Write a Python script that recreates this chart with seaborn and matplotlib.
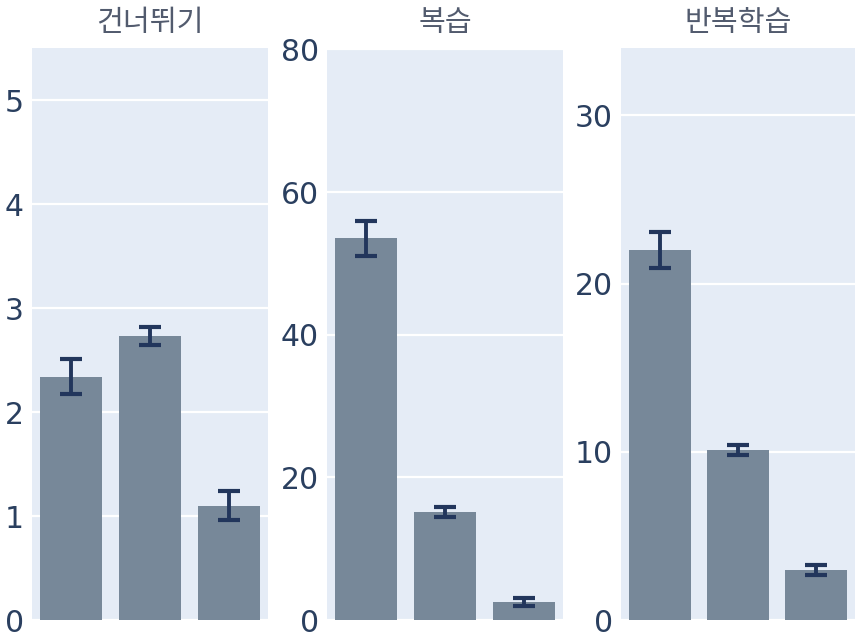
import numpy as np
import pandas as pd
import seaborn as sns
import matplotlib.pyplot as plt

# three panels, three bars each, error bars symmetric
titles = ['건너뛰기', '복습', '반복학습']
groups = ['g1', 'g2', 'g3']

skip_mean = [2.34, 2.73, 1.10]
skip_err = [0.17, 0.09, 0.14]

review_mean = [53.5, 15.2, 2.5]
review_err = [2.5, 0.7, 0.6]

repeat_mean = [22.0, 10.1, 2.95]
repeat_err = [1.05, 0.3, 0.3]

ylims = [(0, 5.5), (0, 80.2), (0, 34)]
yticks = [[0, 1, 2, 3, 4, 5], [0, 20, 40, 60, 80], [0, 10, 20, 30]]

BG = '#E5ECF6'
BAR = '#778899'
ERR = '#22365c'
TXT = '#2a3f5f'

sns.set_style('white', rc={'axes.facecolor': BG})
plt.rcParams['font.family'] = ['DejaVu Sans', 'Noto Sans CJK KR']

fig = plt.figure(figsize=(8.62, 6.39), dpi=100)
lefts = [32, 327, 621]
widths = [236, 236, 234]
bottom = (639 - 620) / 639
height = 572 / 639

panels = [(skip_mean, skip_err), (review_mean, review_err), (repeat_mean, repeat_err)]

for i, (mean, err) in enumerate(panels):
    ax = fig.add_axes([lefts[i] / 862, bottom, widths[i] / 862, height])
    df = pd.DataFrame({'group': groups, 'value': mean})
    sns.barplot(data=df, x='group', y='value', color=BAR, width=0.79,
                saturation=1, linewidth=0, ax=ax, zorder=2)
    ax.errorbar(np.arange(len(groups)), mean, yerr=err, fmt='none',
                ecolor=ERR, elinewidth=2.8, capsize=8, capthick=3, zorder=3)
    ax.set_ylim(*ylims[i])
    ax.set_xlim(-0.5, len(groups) - 0.5)
    ax.set_yticks(yticks[i])
    ax.yaxis.grid(True, color='white', linewidth=1.6, zorder=0)
    ax.set_axisbelow(True)
    ax.set_xticks([])
    ax.set_xlabel('')
    ax.set_ylabel('')
    ax.tick_params(axis='y', length=0, pad=6, labelsize=21.5, labelcolor=TXT)
    for s in ax.spines.values():
        s.set_visible(False)
    ax.text(0.5, 1 + 25 / 572, titles[i], transform=ax.transAxes,
            ha='center', va='center', fontsize=21, color='#525b6e',
            family=['Noto Sans CJK KR', 'DejaVu Sans'])

plt.savefig('out.png', dpi=100)
